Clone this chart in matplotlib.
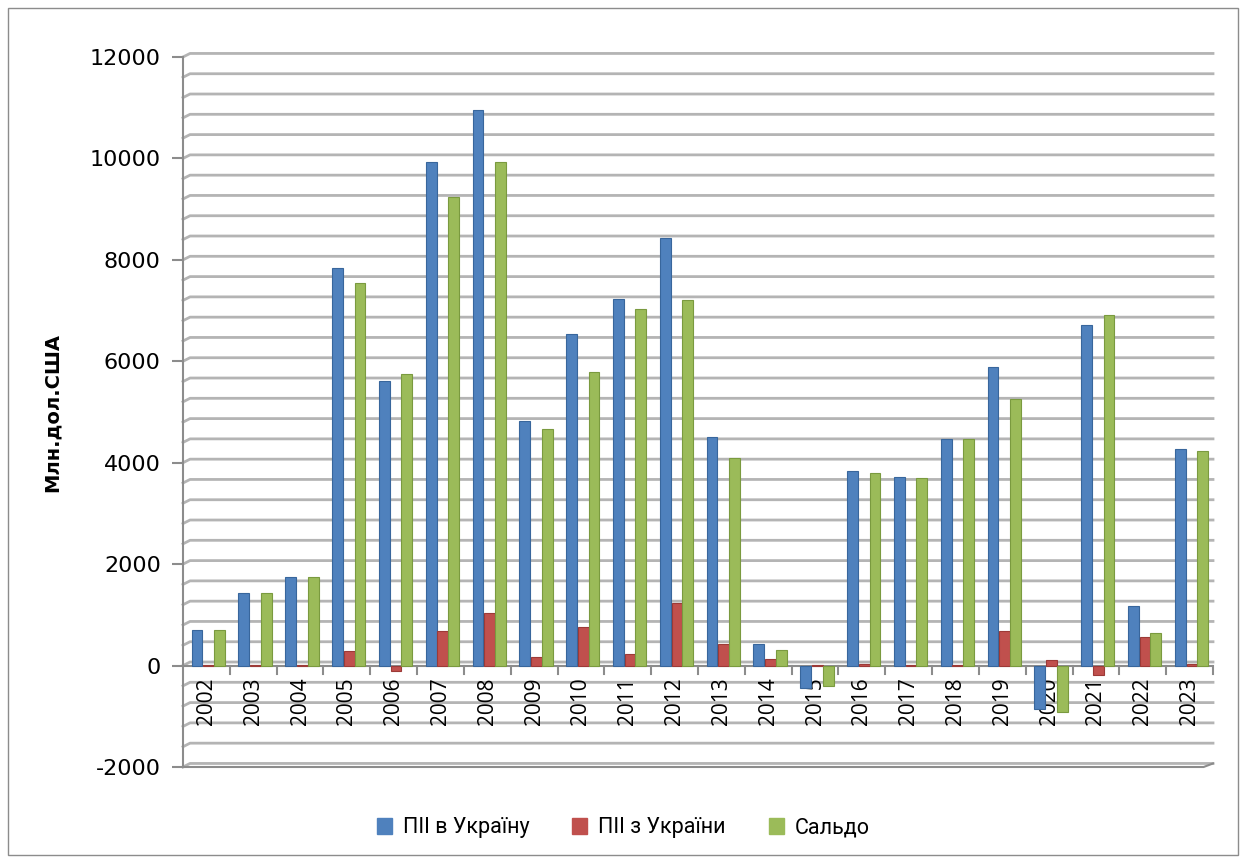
import matplotlib.pyplot as plt
import numpy as np
from matplotlib.patches import Rectangle

plt.rcParams["axes.unicode_minus"] = False

years = [str(y) for y in range(2002, 2024)]
fdi_in = [710, 1440, 1740, 7830, 5620, 9920, 10950, 4830, 6530, 7220, 8430,
          4500, 420, -450, 3830, 3710, 4470, 5880, -850, 6710, 1170, 4280]
fdi_out = [15, 20, 15, 290, -100, 690, 1030, 170, 770, 220, 1230,
           430, 120, 20, 25, 15, 15, 680, 110, -180, 560, 30]
saldo = [710, 1435, 1740, 7550, 5750, 9240, 9920, 4670, 5780, 7040, 7210,
         4090, 310, -400, 3800, 3700, 4470, 5250, -920, 6920, 650, 4230]
series_names = ["ПІІ в Україну", "ПІІ з України", "Сальдо"]
colors = ["#4F81BD", "#C0504D", "#9BBB59"]
edges = ["#38669c", "#9c3a37", "#7a9a3f"]


def plot_chart():
    fig = plt.figure(figsize=(12.44, 8.59), dpi=100)
    ax = fig.add_axes([183 / 1244, 1 - 767 / 859, 1030 / 1244, 710 / 859])
    ax.set_xlim(-0.5, 21.5)
    ax.set_ylim(-2000, 12000)

    # back wall offset (3D look)
    dx, dy = 0.15, 70
    for gy in range(-2000, 12001, 400):
        ax.plot([-0.5, -0.5 + dx, 21.5], [gy, gy + dy, gy + dy],
                color="#b4b4b4", lw=2.0, zorder=1, clip_on=False)

    x = np.arange(len(years))
    offsets = [-0.2, 0.05, 0.28]
    for vals, off, c, e in zip([fdi_in, fdi_out, saldo], offsets, colors, edges):
        ax.bar(x + off, vals, width=0.23, color=c, edgecolor=e, lw=0.8, zorder=3)

    # front axis lines
    ax.plot([-0.5, 21.5], [0, 0], color="#8c8c8c", lw=1.5, zorder=2)
    ax.plot([-0.5, -0.5], [-2000, 12000], color="#8c8c8c", lw=1.5, zorder=2, clip_on=False)
    ax.plot([-0.5, 21.3, 21.5], [-2000, -2000, -2000 + dy], color="#8c8c8c", lw=1.5,
            zorder=2, clip_on=False)
    for b in np.arange(0.5, 21.6, 1.0):
        ax.plot([b, b], [0, -160], color="#8c8c8c", lw=1.5, zorder=2, clip_on=False)

    for s in ax.spines.values():
        s.set_visible(False)
    ax.set_xticks([])
    ax.set_yticks(range(-2000, 12001, 2000))
    ax.tick_params(axis="y", length=8, width=1.5, color="#8c8c8c", pad=8)
    for lbl in ax.get_yticklabels():
        lbl.set_fontsize(16)
        lbl.set_family("DejaVu Sans")

    for i, yr in enumerate(years):
        ax.text(i, -230, yr, rotation=90, ha="center", va="top", fontsize=15,
                family="Open Sans", zorder=2)

    ax.set_ylabel("Млн.дол.США", fontsize=14, fontweight="bold",
                  family=["Liberation Sans Narrow", "DejaVu Sans"], labelpad=20)

    handles = [Rectangle((0, 0), 1, 1, color=c) for c in colors]
    fig.legend(handles, series_names, loc="center", bbox_to_anchor=(0.501, 1 - 828 / 859),
               ncol=3, frameon=False, handlelength=0.7, handleheight=0.7,
               columnspacing=2.0, handletextpad=0.5, prop={"family": "Roboto", "size": 15.5})

    fig.patches.append(Rectangle((8 / 1244, 4 / 859), 1230 / 1244, 847 / 859,
                                 transform=fig.transFigure, fill=False,
                                 edgecolor="#8c8c8c", lw=1))
    fig.savefig("out.png", dpi=100)


if __name__ == "__main__":
    plot_chart()
